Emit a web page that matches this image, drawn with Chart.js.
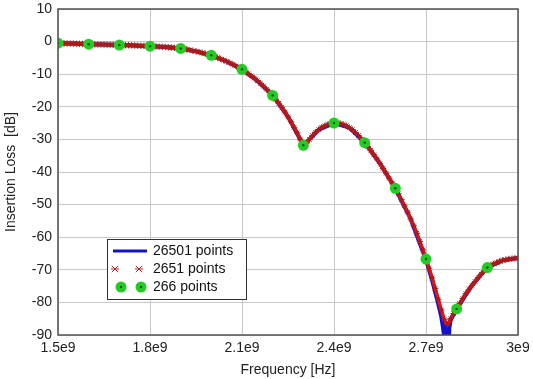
<!DOCTYPE html>
<html>
<head>
<meta charset="utf-8">
<script src="https://cdn.jsdelivr.net/npm/chart.js@4.4.0/dist/chart.umd.min.js"></script>
<style>
html,body{margin:0;padding:0;background:#fff;}
#wrap{position:relative;width:533px;height:379px;}
</style>
</head>
<body>
<div id="wrap"><canvas id="c" width="533" height="379"></canvas></div>
<script>
// Frequencies in GHz (axis labels shown in Hz as e9)
const freqRed = [1.50,1.51,1.52,1.53,1.54,1.55,1.56,1.57,1.58,1.59,1.60,1.61,1.62,1.63,1.64,1.65,1.66,1.67,1.68,1.69,
  1.70,1.71,1.72,1.73,1.74,1.75,1.76,1.77,1.78,1.79,1.80,1.81,1.82,1.83,1.84,1.85,1.86,1.87,1.88,1.89,
  1.90,1.91,1.92,1.93,1.94,1.95,1.96,1.97,1.98,1.99,2.00,2.01,2.02,2.03,2.04,2.05,2.06,2.07,2.08,2.09,
  2.10,2.11,2.12,2.13,2.14,2.15,2.16,2.17,2.18,2.19,2.20,2.21,2.22,2.23,2.24,2.25,2.26,2.27,2.28,2.29,
  2.30,2.31,2.32,2.33,2.34,2.35,2.36,2.37,2.38,2.39,2.40,2.41,2.42,2.43,2.44,2.45,2.46,2.47,2.48,2.49,
  2.50,2.51,2.52,2.53,2.54,2.55,2.56,2.57,2.58,2.59,2.60,2.61,2.62,2.63,2.64,2.65,2.66,2.67,2.68,2.69,
  2.70,2.71,2.72,2.73,2.74,2.75,2.76,2.77,2.78,2.79,2.80,2.81,2.82,2.83,2.84,2.85,2.86,2.87,2.88,2.89,
  2.90,2.91,2.92,2.93,2.94,2.95,2.96,2.97,2.98,2.99,3.00];
const lossRed = [-0.5,-0.52,-0.55,-0.58,-0.6,-0.62,-0.65,-0.68,-0.7,-0.75,-0.8,-0.82,-0.85,-0.88,-0.9,-0.92,-0.95,-0.98,-1.0,-1.02,
  -1.05,-1.08,-1.1,-1.12,-1.15,-1.2,-1.25,-1.28,-1.3,-1.35,-1.4,-1.45,-1.5,-1.55,-1.6,-1.68,-1.75,-1.82,-1.9,-2.0,
  -2.1,-2.25,-2.4,-2.6,-2.8,-3.0,-3.2,-3.45,-3.7,-3.95,-4.2,-4.55,-4.9,-5.3,-5.7,-6.1,-6.5,-7.0,-7.5,-8.0,
  -8.5,-9.15,-9.8,-10.5,-11.2,-12.0,-12.8,-13.7,-14.6,-15.5,-16.5,-17.7,-18.9,-20.2,-21.6,-23.1,-24.6,-26.3,-28.0,-29.9,
  -31.8,-31.2,-30.0,-28.8,-27.8,-27.0,-26.3,-25.8,-25.4,-25.1,-25.0,-25.0,-25.1,-25.4,-25.8,-26.4,-27.0,-27.9,-28.8,-29.9,
  -31.0,-32.2,-33.4,-34.7,-36.0,-37.4,-38.9,-40.4,-41.9,-43.4,-45.0,-46.7,-48.5,-50.4,-52.3,-54.4,-56.5,-58.8,-61.3,-63.9,
  -66.7,-69.5,-72.5,-75.7,-79.0,-82.3,-85.3,-86.8,-85.0,-83.4,-82.0,-80.3,-78.8,-77.3,-76.0,-74.8,-73.6,-72.4,-71.3,-70.3,
  -69.3,-68.7,-68.2,-67.8,-67.4,-67.1,-66.9,-66.7,-66.6,-66.5,-66.4];

const freqBlue = [1.50,1.55,1.60,1.65,1.70,1.75,1.80,1.85,1.90,1.95,2.00,2.05,2.10,2.15,2.20,2.25,2.30,2.32,2.35,2.40,
  2.45,2.50,2.55,2.60,2.65,2.70,2.72,2.74,2.75,2.755,2.76,2.763,2.766,2.77,2.773,2.776,2.78,2.80,2.85,2.90,2.95,3.00];
const lossBlue = [-0.5,-0.62,-0.8,-0.92,-1.05,-1.2,-1.4,-1.68,-2.1,-3.0,-4.2,-6.1,-8.5,-12.0,-16.5,-23.1,-31.8,-30.0,-27.0,-25.0,
  -26.4,-31.0,-37.4,-45.0,-54.4,-66.9,-73.3,-80.5,-84.5,-87.5,-91.0,-86.5,-94.0,-88.5,-98.0,-88.0,-85.5,-82.0,-74.8,-69.3,-67.1,-66.4];

const freqGreen = [1.5,1.6,1.7,1.8,1.9,2.0,2.1,2.2,2.3,2.4,2.5,2.6,2.7,2.8,2.9];
const lossGreen = [-0.5,-0.8,-1.05,-1.4,-2.1,-4.2,-8.5,-16.5,-31.8,-25.0,-31.0,-45.0,-66.7,-82.0,-69.3];

const xTicks = [1.5,1.8,2.1,2.4,2.7,3.0];
const xTickLabels = ['1.5e9','1.8e9','2.1e9','2.4e9','2.7e9','3e9'];
const yTicks = [10,0,-10,-20,-30,-40,-50,-60,-70,-80,-90];
const legendLabels = ['26501 points','2651 points','266 points'];

const toXY = (xs, ys) => xs.map((x,i)=>({x:x, y:ys[i]}));

const FONT = "'Liberation Sans', Arial, sans-serif";
const BLUE = '#1212cc';
const RED = '#e01414';
const DARKRED = '#a41c1c';
const GREEN = '#22cc22';

const framePlugin = {
  id:'frame',
  afterDatasetsDraw(chart){
    const {ctx, chartArea:a} = chart;
    ctx.save();
    ctx.strokeStyle = '#505050';
    ctx.lineWidth = 1.5;
    ctx.strokeRect(a.left, a.top, a.right-a.left, a.bottom-a.top);
    ctx.restore();
  }
};

function drawStar(ctx, x, y, r){
  ctx.beginPath();
  ctx.moveTo(x-r*0.8, y-r*0.8); ctx.lineTo(x+r*0.8, y+r*0.8);
  ctx.moveTo(x+r*0.8, y-r*0.8); ctx.lineTo(x-r*0.8, y+r*0.8);
  ctx.moveTo(x-r, y); ctx.lineTo(x+r, y);
  ctx.stroke();
}
function drawDot(ctx, x, y){
  ctx.fillStyle = GREEN;
  ctx.beginPath(); ctx.arc(x, y, 5.5, 0, Math.PI*2); ctx.fill();
  ctx.fillStyle = '#224422';
  ctx.beginPath(); ctx.arc(x, y, 1.2, 0, Math.PI*2); ctx.fill();
}

const legendPlugin = {
  id:'boxLegend',
  afterDraw(chart){
    const ctx = chart.ctx;
    const L = 107, T = 239, W = 139, H = 60;
    ctx.save();
    ctx.fillStyle = '#fff';
    ctx.fillRect(L, T, W, H);
    ctx.strokeStyle = '#333';
    ctx.lineWidth = 1;
    ctx.strokeRect(L+0.5, T+0.5, W, H);
    const rows = [251, 269, 287];
    ctx.strokeStyle = BLUE; ctx.lineWidth = 3;
    ctx.beginPath(); ctx.moveTo(113, rows[0]); ctx.lineTo(147, rows[0]); ctx.stroke();
    ctx.strokeStyle = '#c02020'; ctx.lineWidth = 1;
    drawStar(ctx, 115, rows[1], 4); drawStar(ctx, 139, rows[1], 4);
    drawDot(ctx, 121, rows[2]); drawDot(ctx, 141, rows[2]);
    ctx.fillStyle = '#111';
    ctx.font = '14px ' + FONT;
    ctx.textBaseline = 'middle';
    ctx.textAlign = 'left';
    legendLabels.forEach((t,i)=>ctx.fillText(t, 153, rows[i]));
    ctx.restore();
  }
};

new Chart(document.getElementById('c'), {
  type:'scatter',
  data:{
    datasets:[
      {label:legendLabels[0], data:toXY(freqBlue, lossBlue), showLine:true, borderColor:BLUE, borderWidth:4,
       pointRadius:0, tension:0, order:3},
      {label:legendLabels[1], data:toXY(freqRed, lossRed), showLine:true, borderColor:RED, borderWidth:3.5,
       pointStyle:'star', pointRadius:3.2, pointBorderColor:DARKRED, pointBorderWidth:1, pointBackgroundColor:DARKRED,
       cubicInterpolationMode:'monotone', order:2},
      {label:legendLabels[2], data:toXY(freqGreen, lossGreen), showLine:false,
       pointStyle:'circle', pointRadius:5.5, pointBackgroundColor:GREEN, pointBorderColor:GREEN, pointBorderWidth:0, order:1},
      {label:'', data:toXY(freqGreen, lossGreen), showLine:false,
       pointRadius:1.2, pointBackgroundColor:'#224422', pointBorderWidth:0, order:0}
    ]
  },
  options:{
    responsive:false,
    animation:false,
    events:[],
    layout:{padding:{left:0, right:15, top:9, bottom:0}},
    plugins:{legend:{display:false}, tooltip:{enabled:false}},
    scales:{
      x:{
        type:'linear', min:1.5, max:3.0,
        afterBuildTicks(s){ s.ticks = xTicks.map(v=>({value:v})); },
        afterFit(s){ s.height = 44; s.paddingLeft = 0; s.paddingRight = 0; },
        ticks:{ color:'#222', font:{family:FONT, size:14}, padding:5, maxRotation:0, autoSkip:false,
          callback(v){ const i = xTicks.findIndex(t=>Math.abs(t-v)<1e-6); return i>=0 ? xTickLabels[i] : ''; } },
        grid:{ color:'#c8c8c8', lineWidth:1, drawTicks:false },
        border:{ display:false },
        title:{ display:true, text:'Frequency [Hz]', color:'#222', font:{family:FONT, size:14}, padding:{top:3, bottom:0} }
      },
      y:{
        type:'linear', min:-90, max:10,
        afterBuildTicks(s){ s.ticks = yTicks.map(v=>({value:v})); },
        afterFit(s){ s.width = 58; s.paddingTop = 0; s.paddingBottom = 0; },
        ticks:{ color:'#222', font:{family:FONT, size:14}, padding:6, autoSkip:false },
        grid:{ color:'#c8c8c8', lineWidth:1, drawTicks:false },
        border:{ display:false },
        title:{ display:true, text:'Insertion Loss  [dB]', color:'#222', font:{family:FONT, size:14}, padding:{top:3, bottom:2} }
      }
    }
  },
  plugins:[framePlugin, legendPlugin]
});
</script>
</body>
</html>
